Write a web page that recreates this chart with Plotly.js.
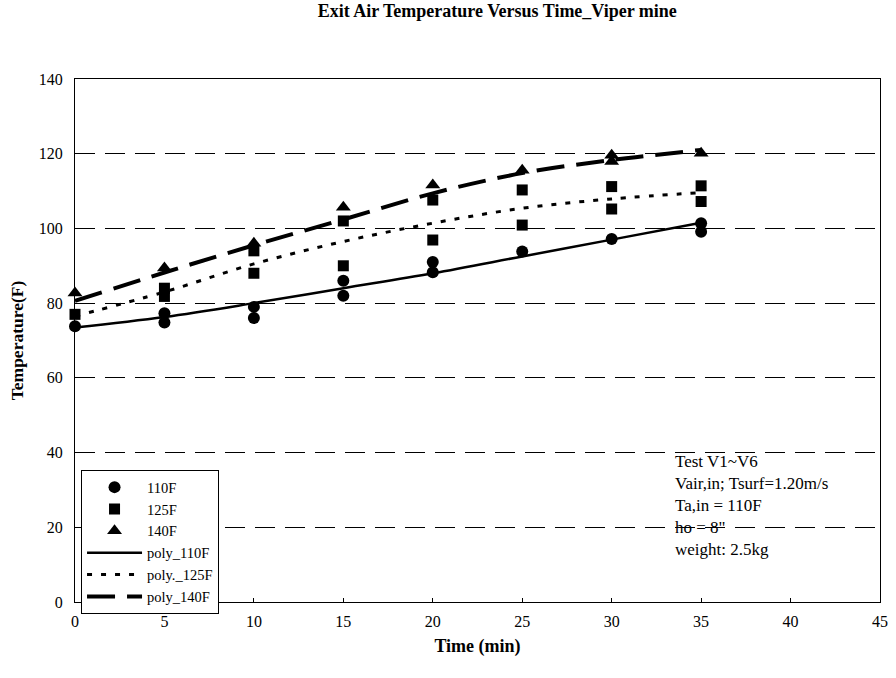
<!DOCTYPE html>
<html><head><meta charset="utf-8">
<script src="https://cdn.plot.ly/plotly-3.0.1.min.js"></script>
<style>body{margin:0;background:#fff}#chart{width:896px;height:678px}</style>
</head><body><div id="chart"></div>
<script>
// Measured points
const t110 = [0, 5, 5, 10, 10, 15, 15, 20, 20, 25, 30, 35, 35];
const v110 = [73.8, 77.3, 74.8, 79, 76, 86, 82, 91, 88.3, 93.8, 97.2, 101.4, 99.1];
const t125 = [0, 5, 5, 10, 10, 15, 15, 20, 20, 25, 25, 30, 30, 35, 35];
const v125 = [77, 84, 81.8, 94, 88, 102, 90, 107.6, 96.9, 110.3, 100.9, 111.2, 105.2, 111.4, 107.2];
const t140 = [0, 5, 10, 15, 20, 25, 30, 30, 35];
const v140 = [82.7, 89.4, 96, 105.7, 111.6, 115.6, 119.6, 117.9, 120.1];
// Trend (poly) curves
const tFit = [0, 5, 10, 15, 20, 25, 30, 35];
const fit110 = [73.5, 76.3, 80, 84, 88, 92.5, 97, 101.5];
const fit125 = [76.5, 83, 90.5, 96.5, 101.4, 105.4, 107.9, 109.6];
const fit140 = [80.6, 88.2, 95.5, 102.4, 109.4, 114.8, 118.3, 121];
const names = ["110F", "125F", "140F", "poly_110F", "poly._125F", "poly_140F"];
const noteLines = ["Test V1~V6", "Vair,in; Tsurf=1.20m/s", "Ta,in = 110F", "ho = 8\"", "weight: 2.5kg"];

const serif = "Liberation Serif, Times New Roman, serif";
const mk = (sym, size) => ({symbol: sym, size: size, color: "#000"});
const traces = [
  {x: t110, y: v110, name: names[0], mode: "markers", type: "scatter", marker: mk("circle", 12), cliponaxis: false},
  {x: t125, y: v125, name: names[1], mode: "markers", type: "scatter", marker: mk("square", 11), cliponaxis: false},
  {x: t140, y: v140, name: names[2], mode: "markers", type: "scatter", marker: mk("triangle-up", 13), cliponaxis: false},
  {x: tFit, y: fit110, name: names[3], mode: "lines", type: "scatter", line: {color: "#000", width: 2.5, shape: "spline"}},
  {x: tFit, y: fit125, name: names[4], mode: "lines", type: "scatter", line: {color: "#000", width: 3, dash: "5px,9px", shape: "spline"}},
  {x: tFit, y: fit140, name: names[5], mode: "lines", type: "scatter", line: {color: "#000", width: 4, dash: "28px,12px", shape: "spline"}}
];

const annotations = noteLines.map((s, i) => ({
  text: s, xref: "paper", yref: "paper", x: 0.743, y: 0.268 - i * 0.042,
  xanchor: "left", yanchor: "middle", showarrow: false,
  font: {family: serif, size: 17, color: "#000"}
}));

const layout = {
  width: 896, height: 678,
  margin: {l: 75, r: 16, t: 79, b: 76},
  paper_bgcolor: "#fff", plot_bgcolor: "#fff",
  font: {family: serif, size: 16, color: "#000"},
  title: {text: "<b>Exit Air Temperature Versus Time_Viper mine</b>", x: 0.555, xanchor: "center", y: 0.993, yanchor: "top", font: {family: serif, size: 18, color: "#000"}},
  xaxis: {
    range: [0, 45], dtick: 5, tick0: 0,
    showgrid: false, zeroline: false,
    showline: true, linecolor: "#000", linewidth: 1, mirror: true,
    ticks: "inside", ticklen: 4, tickcolor: "#000",
    tickfont: {family: serif, size: 16}, ticklabelstandoff: 5,
    title: {text: "<b>Time (min)</b>", font: {family: serif, size: 18}, standoff: 10}
  },
  yaxis: {
    range: [0, 140], dtick: 20, tick0: 0,
    showgrid: true, gridcolor: "#000", gridwidth: 1, griddash: "20px,10px",
    zeroline: false,
    showline: true, linecolor: "#000", linewidth: 1, mirror: true,
    ticks: "inside", ticklen: 4, tickcolor: "#000",
    tickfont: {family: serif, size: 16}, ticklabelstandoff: 8,
    title: {text: "<b>Temperature(F)</b>", font: {family: serif, size: 17.5}, standoff: 10}
  },
  legend: {
    x: 0.0075, y: 0.252, xanchor: "left", yanchor: "top",
    bgcolor: "#fff", bordercolor: "#000", borderwidth: 1,
    font: {family: serif, size: 14.5, color: "#000"},
    tracegroupgap: 0, itemwidth: 55
  },
  showlegend: true,
  annotations: annotations
};

Plotly.newPlot("chart", traces, layout, {displayModeBar: false, staticPlot: true});
</script>
</body></html>
